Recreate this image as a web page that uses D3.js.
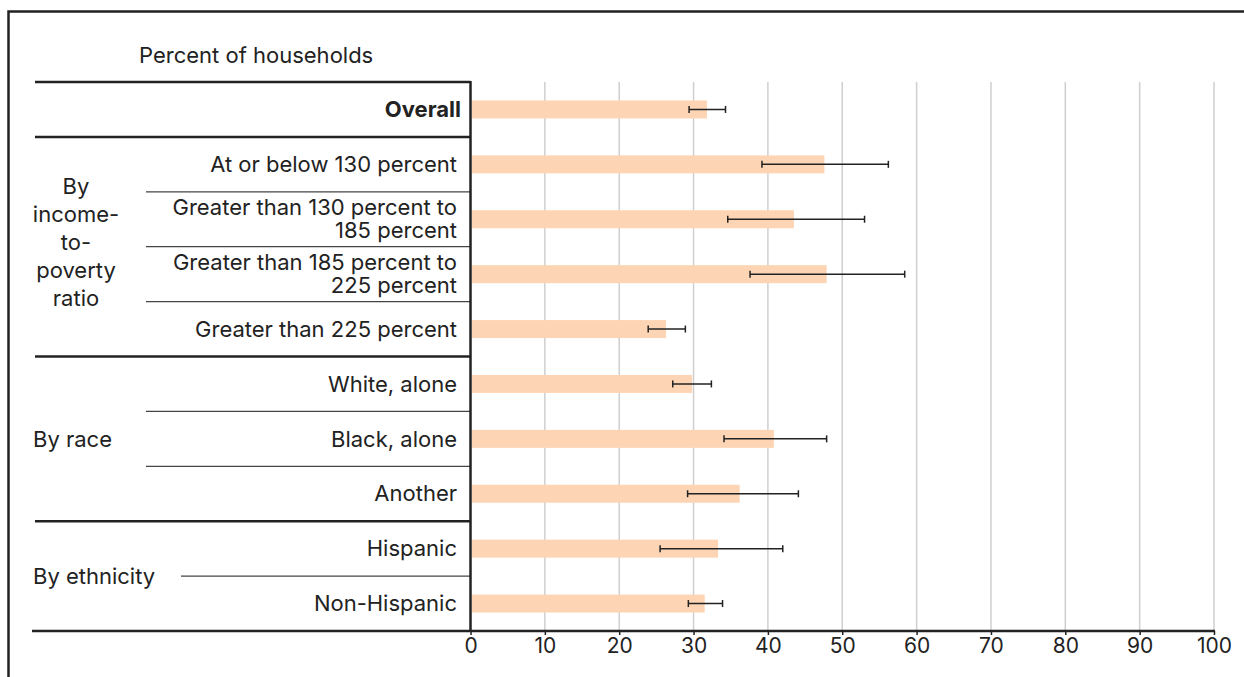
<!DOCTYPE html>
<html>
<head>
<meta charset="utf-8">
<script src="https://cdn.jsdelivr.net/npm/d3@7"></script>
<style>
body { margin: 0; background: #fff; }
text { font-family: Inter, "Noto Sans", sans-serif; fill: #222; }
</style>
</head>
<body>
<div id="chart"></div>
<script>
// rows, top to bottom
var categories = ["Overall", "At or below 130 percent", "Greater than 130 percent to 185 percent",
	"Greater than 185 percent to 225 percent", "Greater than 225 percent",
	"White, alone", "Black, alone", "Another", "Hispanic", "Non-Hispanic"];
var labelLines = [["Overall"], ["At or below 130 percent"], ["Greater than 130 percent to", "185 percent"],
	["Greater than 185 percent to", "225 percent"], ["Greater than 225 percent"],
	["White, alone"], ["Black, alone"], ["Another"], ["Hispanic"], ["Non-Hispanic"]];
var rowGroup = ["overall", "income", "income", "income", "income", "race", "race", "race", "ethnicity", "ethnicity"];
var groupNames = ["income", "race", "ethnicity"];
var groupLabels = [["By", "income-", "to-", "poverty", "ratio"], ["By race"], ["By ethnicity"]];

// percent of households with 95% interval
var values = [31.8, 47.6, 43.5, 47.9, 26.3, 29.8, 40.8, 36.2, 33.3, 31.5];
var lower  = [29.4, 39.2, 34.6, 37.6, 23.9, 27.2, 34.1, 29.2, 25.5, 29.3];
var upper  = [34.3, 56.2, 53.0, 58.4, 28.9, 32.4, 47.9, 44.1, 42.0, 33.9];

var xTicks = [0, 10, 20, 30, 40, 50, 60, 70, 80, 90, 100];
var axisTitle = "Percent of households";

var w = 1244, h = 677;
var plotLeft = 470.5, plotRight = 1214, plotTop = 82, plotBottom = 631;
var barH = 18;
var fontSize = "22px";

var svg = d3.select("#chart").append("svg").attr("width", w).attr("height", h);

// outer frame (runs off the picture right and bottom)
svg.append("rect")
	.attr("x", 8.5).attr("y", 11.5).attr("width", 1400).attr("height", 1000)
	.attr("fill", "none").attr("stroke", "#222").attr("stroke-width", 2.5);

var x = d3.scaleLinear().domain([0, 100]).range([plotLeft, plotRight]);
var y = d3.scaleBand().domain(categories).range([plotTop, plotBottom]).paddingInner(0);

// grid
svg.append("g").selectAll("line")
	.data(xTicks.filter(function(d) { return d > 0; })).enter()
	.append("line")
	.attr("x1", function(d) { return x(d); }).attr("x2", function(d) { return x(d); })
	.attr("y1", plotTop).attr("y2", plotBottom)
	.attr("stroke", "#cfcfcf").attr("stroke-width", 1.5);

var data = categories.map(function(c, i) {
	return {name: c, lines: labelLines[i], group: rowGroup[i], value: values[i], lo: lower[i], hi: upper[i]};
});

// bars
svg.append("g").selectAll("rect")
	.data(data).enter()
	.append("rect")
	.attr("x", x(0) + 1.5)
	.attr("y", function(d) { return y(d.name) + (y.bandwidth() - barH) / 2; })
	.attr("width", function(d) { return x(d.value) - x(0) - 1.5; })
	.attr("height", barH)
	.attr("fill", "#fdd5b5");

// error bars
var err = svg.append("g").attr("stroke", "#222").attr("stroke-width", 1.5);
data.forEach(function(d) {
	var cy = y(d.name) + y.bandwidth() / 2;
	err.append("line").attr("x1", x(d.lo)).attr("x2", x(d.hi)).attr("y1", cy).attr("y2", cy);
	err.append("line").attr("x1", x(d.lo)).attr("x2", x(d.lo)).attr("y1", cy - 3.5).attr("y2", cy + 3.5);
	err.append("line").attr("x1", x(d.hi)).attr("x2", x(d.hi)).attr("y1", cy - 3.5).attr("y2", cy + 3.5);
});

// row separators
var sep = svg.append("g");
data.forEach(function(d, i) {
	if (i == 0) return;
	var yy = y(d.name);
	var sameGroup = d.group == data[i - 1].group;
	var x1 = sameGroup ? (d.group == "ethnicity" ? 181 : 146) : 35;
	sep.append("line")
		.attr("x1", x1).attr("x2", plotLeft).attr("y1", yy).attr("y2", yy)
		.attr("stroke", sameGroup ? "#444" : "#222")
		.attr("stroke-width", sameGroup ? 1.2 : 2.5);
});
sep.append("line").attr("x1", 35).attr("x2", plotLeft).attr("y1", plotTop).attr("y2", plotTop)
	.attr("stroke", "#222").attr("stroke-width", 2.5);

// row labels
var labels = svg.append("g").attr("text-anchor", "end").style("font-size", fontSize);
data.forEach(function(d) {
	var cy = y(d.name) + y.bandwidth() / 2;
	var n = d.lines.length;
	var lx = d.group == "overall" ? 461 : 457;
	var t = labels.append("text")
		.style("font-weight", d.group == "overall" ? "700" : "400");
	d.lines.forEach(function(l, j) {
		t.append("tspan").attr("x", lx)
			.attr("y", cy + (j - (n - 1) / 2) * 23)
			.attr("dy", "0.35em").text(l);
	});
});

// group labels
groupNames.forEach(function(g, gi) {
	var rows = data.filter(function(d) { return d.group == g; });
	var mid = d3.mean(rows, function(d) { return y(d.name) + y.bandwidth() / 2; });
	var lines = groupLabels[gi];
	var n = lines.length;
	var t = svg.append("text").style("font-size", fontSize)
		.attr("text-anchor", n > 1 ? "middle" : "start");
	var gx = n > 1 ? 76 : 33;
	if (n > 1) mid = mid - 4;
	lines.forEach(function(l, j) {
		t.append("tspan").attr("x", gx)
			.attr("y", mid + (j - (n - 1) / 2) * 28)
			.attr("dy", "0.35em").text(l);
	});
});

// axes
svg.append("line").attr("x1", plotLeft).attr("x2", plotLeft).attr("y1", plotTop - 1).attr("y2", plotBottom)
	.attr("stroke", "#222").attr("stroke-width", 2.5);

var xAxis = d3.axisBottom(x).tickValues(xTicks).tickSize(4).tickPadding(3);
var gx = svg.append("g").attr("transform", "translate(0," + plotBottom + ")").call(xAxis);
gx.select(".domain").remove();
gx.selectAll(".tick line").attr("stroke", "#222").attr("stroke-width", 1.5);
gx.selectAll(".tick text").style("font-size", "21px").style("font-family", "Inter, 'Noto Sans', sans-serif").attr("fill", "#222");
svg.append("line").attr("x1", 32).attr("x2", plotRight + 1).attr("y1", plotBottom).attr("y2", plotBottom)
	.attr("stroke", "#222").attr("stroke-width", 2.5);

svg.append("text").attr("x", 139).attr("y", 55).attr("dy", "0.35em")
	.style("font-size", fontSize).text(axisTitle);
</script>
</body>
</html>
